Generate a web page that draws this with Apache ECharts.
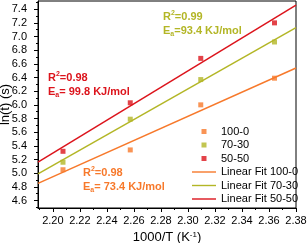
<!DOCTYPE html>
<html><head><meta charset="utf-8">
<script src="https://cdn.jsdelivr.net/npm/echarts@6/dist/echarts.min.js"></script>
<style>html,body{margin:0;padding:0;background:#fff}#c{width:307px;height:243px}</style>
</head><body><div id="c"></div>
<script>
// ---- data ----
const xValues = [2.2075, 2.2573, 2.3095, 2.3641];
const y100_0 = [5.05, 5.34, 6.00, 6.39];
const y70_30 = [5.16, 5.79, 6.37, 6.92];
const y50_50 = [5.32, 6.03, 6.68, 7.20];
const fitX = [2.189, 2.38];
const fit100_0 = [4.85, 6.54];
const fit70_30 = [4.99, 7.13];
const fit50_50 = [5.16, 7.46];
const seriesNames = ['100-0', '70-30', '50-50'];
const fitNames = ['Linear Fit 100-0', 'Linear Fit 70-30', 'Linear Fit 50-50'];
const xTickLabels = ['2.20','2.22','2.24','2.26','2.28','2.30','2.32','2.34','2.36','2.38'];
const xMinorTicks = [2.19,2.21,2.23,2.25,2.27,2.29,2.31,2.33,2.35,2.37];
const yTickLabels = ['4.6','4.8','5.0','5.2','5.4','5.6','5.8','6.0','6.2','6.4','6.6','6.8','7.0','7.2','7.4'];
const yMinorTicks = [4.5,4.7,4.9,5.1,5.3,5.5,5.7,5.9,6.1,6.3,6.5,6.7,6.9,7.1,7.3,7.5];
const annotations = [
  {r2: '0.98', ea: ' 99.8 KJ/mol'},
  {r2: '0.99', ea: '93.4 KJ/mol'},
  {r2: '0.98', ea: ' 73.4 KJ/mol'}
];

// ---- style ----
const FONT = 'Arial, "Liberation Sans", sans-serif';
const C = {orange: '#f7792b', olive: '#b3b626', red: '#dc141c'};
const colors = [C.orange, C.olive, C.red];
const fits = [fit100_0, fit70_30, fit50_50];
const ys = [y100_0, y70_30, y50_50];
const xMin = 2.189, xMax = 2.38, yMin = 4.49, yMax = 7.52;
const squareIcon = 'path://M0,0H10V10H0Z';
const lineIcon = 'path://M0,0H24V1.4H0Z';

const series = [];
fits.forEach((f, i) => {
  series.push({
    name: fitNames[i], type: 'line', symbol: 'none', showSymbol: false, silent: true,
    data: fitX.map((x, k) => [x, f[k]]),
    lineStyle: {color: colors[i], width: 1.5}, itemStyle: {color: colors[i]},
    z: 2, animation: false
  });
});
ys.forEach((y, i) => {
  series.push({
    name: seriesNames[i], type: 'scatter', symbol: 'rect', symbolSize: 5,
    data: xValues.map((x, k) => [x, y[k]]),
    itemStyle: {color: colors[i]}, z: 3, animation: false
  });
});

const annPos = [
  {left: 48, top: 71, color: C.red},
  {left: 163, top: 10, color: C.olive},
  {left: 83, top: 166, color: C.orange}
];
const graphics = [];
annotations.forEach((a, i) => {
  const p = annPos[i];
  const base = {fontSize: 11, fontWeight: 'bold', fontFamily: FONT};
  graphics.push({
    type: 'text', left: p.left, top: p.top,
    style: {
      text: 'R{sup|2}=' + a.r2 + '\nE{sub|a}=' + a.ea,
      fill: p.color, ...base, lineHeight: 14,
      rich: {
        sup: {fontSize: 7, fontWeight: 'bold', fontFamily: FONT, verticalAlign: 'top', fill: p.color},
        sub: {fontSize: 7, fontWeight: 'bold', fontFamily: FONT, verticalAlign: 'bottom', fill: p.color}
      }
    }
  });
});

const axisText = {fontSize: 11, color: '#000', fontFamily: FONT};
const option = {
  backgroundColor: '#fff',
  animation: false,
  grid: {left: 38, right: 11, top: 1, bottom: 35, show: true, borderColor: '#000', borderWidth: 1,
    containLabel: false, outerBoundsMode: 'none'},
  xAxis: [{
    type: 'value', min: xMin, max: xMax,
    axisLine: {show: true, lineStyle: {color: '#000', width: 1}},
    axisTick: {show: true, inside: false, length: 4, customValues: xTickLabels.map(Number), lineStyle: {color: '#000'}},
    axisLabel: {customValues: xTickLabels.map(Number), formatter: v => v.toFixed(2), margin: 7, ...axisText},
    splitLine: {show: false},
    name: '1000/T (K{sup|-1})', nameLocation: 'middle', nameGap: 19,
    nameTextStyle: {fontSize: 13, color: '#000', fontFamily: FONT,
      rich: {sup: {fontSize: 8, verticalAlign: 'top', color: '#000', fontFamily: FONT}}}
  }, {
    type: 'value', min: xMin, max: xMax, position: 'bottom', offset: 0,
    axisLine: {show: false},
    axisTick: {show: true, inside: false, length: 2, customValues: xMinorTicks, lineStyle: {color: '#000'}},
    axisLabel: {show: false}, splitLine: {show: false}
  }],
  yAxis: [{
    type: 'value', min: yMin, max: yMax,
    axisLine: {show: true, lineStyle: {color: '#000', width: 1}},
    axisTick: {show: true, inside: false, length: 4, customValues: yTickLabels.map(Number), lineStyle: {color: '#000'}},
    axisLabel: {customValues: yTickLabels.map(Number), formatter: v => v.toFixed(1), margin: 11, ...axisText},
    splitLine: {show: false},
    name: 'ln(t) (s)', nameLocation: 'middle', nameGap: 26, nameMoveOverlap: false,
    nameTextStyle: {fontSize: 13, color: '#000', fontFamily: FONT}
  }, {
    type: 'value', min: yMin, max: yMax, position: 'left', offset: 0,
    axisLine: {show: false},
    axisTick: {show: true, inside: false, length: 2, customValues: yMinorTicks, lineStyle: {color: '#000'}},
    axisLabel: {show: false}, splitLine: {show: false}
  }],
  legend: {
    orient: 'vertical', left: 187, top: 121, itemWidth: 24, itemHeight: 5, itemGap: 2.5,
    textStyle: {fontSize: 11, color: '#000', fontFamily: FONT},
    data: seriesNames.map(n => ({name: n, icon: squareIcon})).concat(fitNames.map(n => ({name: n, icon: lineIcon})))
  },
  graphic: graphics,
  series: series
};
const chart = echarts.init(document.getElementById('c'), null, {renderer: 'canvas'});
chart.setOption(option);
</script>
</body></html>
